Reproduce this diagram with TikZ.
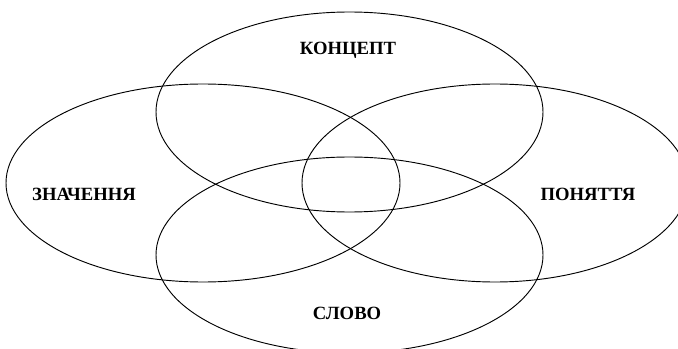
\documentclass[tikz,border=0pt]{standalone}
\usepackage{fontspec}
\setmainfont{Liberation Serif}
\usepackage{tikz}
\tikzset{
  field/.style={draw=black,line width=0.7pt},
  term/.style={font=\bfseries\fontsize{14}{16}\selectfont,inner sep=0pt}
}
\begin{document}
\begin{tikzpicture}[x=0.75pt,y=-0.75pt]
  \useasboundingbox (0,0) rectangle (678,349);
  \clip (0,0) rectangle (678,349);
  \foreach \cx/\cy/\rx/\ry in {
    349.5/112/193.5/100,
    203/183/197/99,
    495/183/193/99,
    349.5/255/193.5/98}
  {
    \draw[field] (\cx,\cy) ellipse [x radius=\rx, y radius=\ry];
  }
  \node[term] (koncept) at (348,50) {КОНЦЕПТ};
  \node[term] (znachennya) at (84,194) {ЗНАЧЕННЯ};
  \node[term] (ponyattya) at (588,194) {ПОНЯТТЯ};
  \node[term] (slovo) at (347,313) {СЛОВО};
\end{tikzpicture}
\end{document}
